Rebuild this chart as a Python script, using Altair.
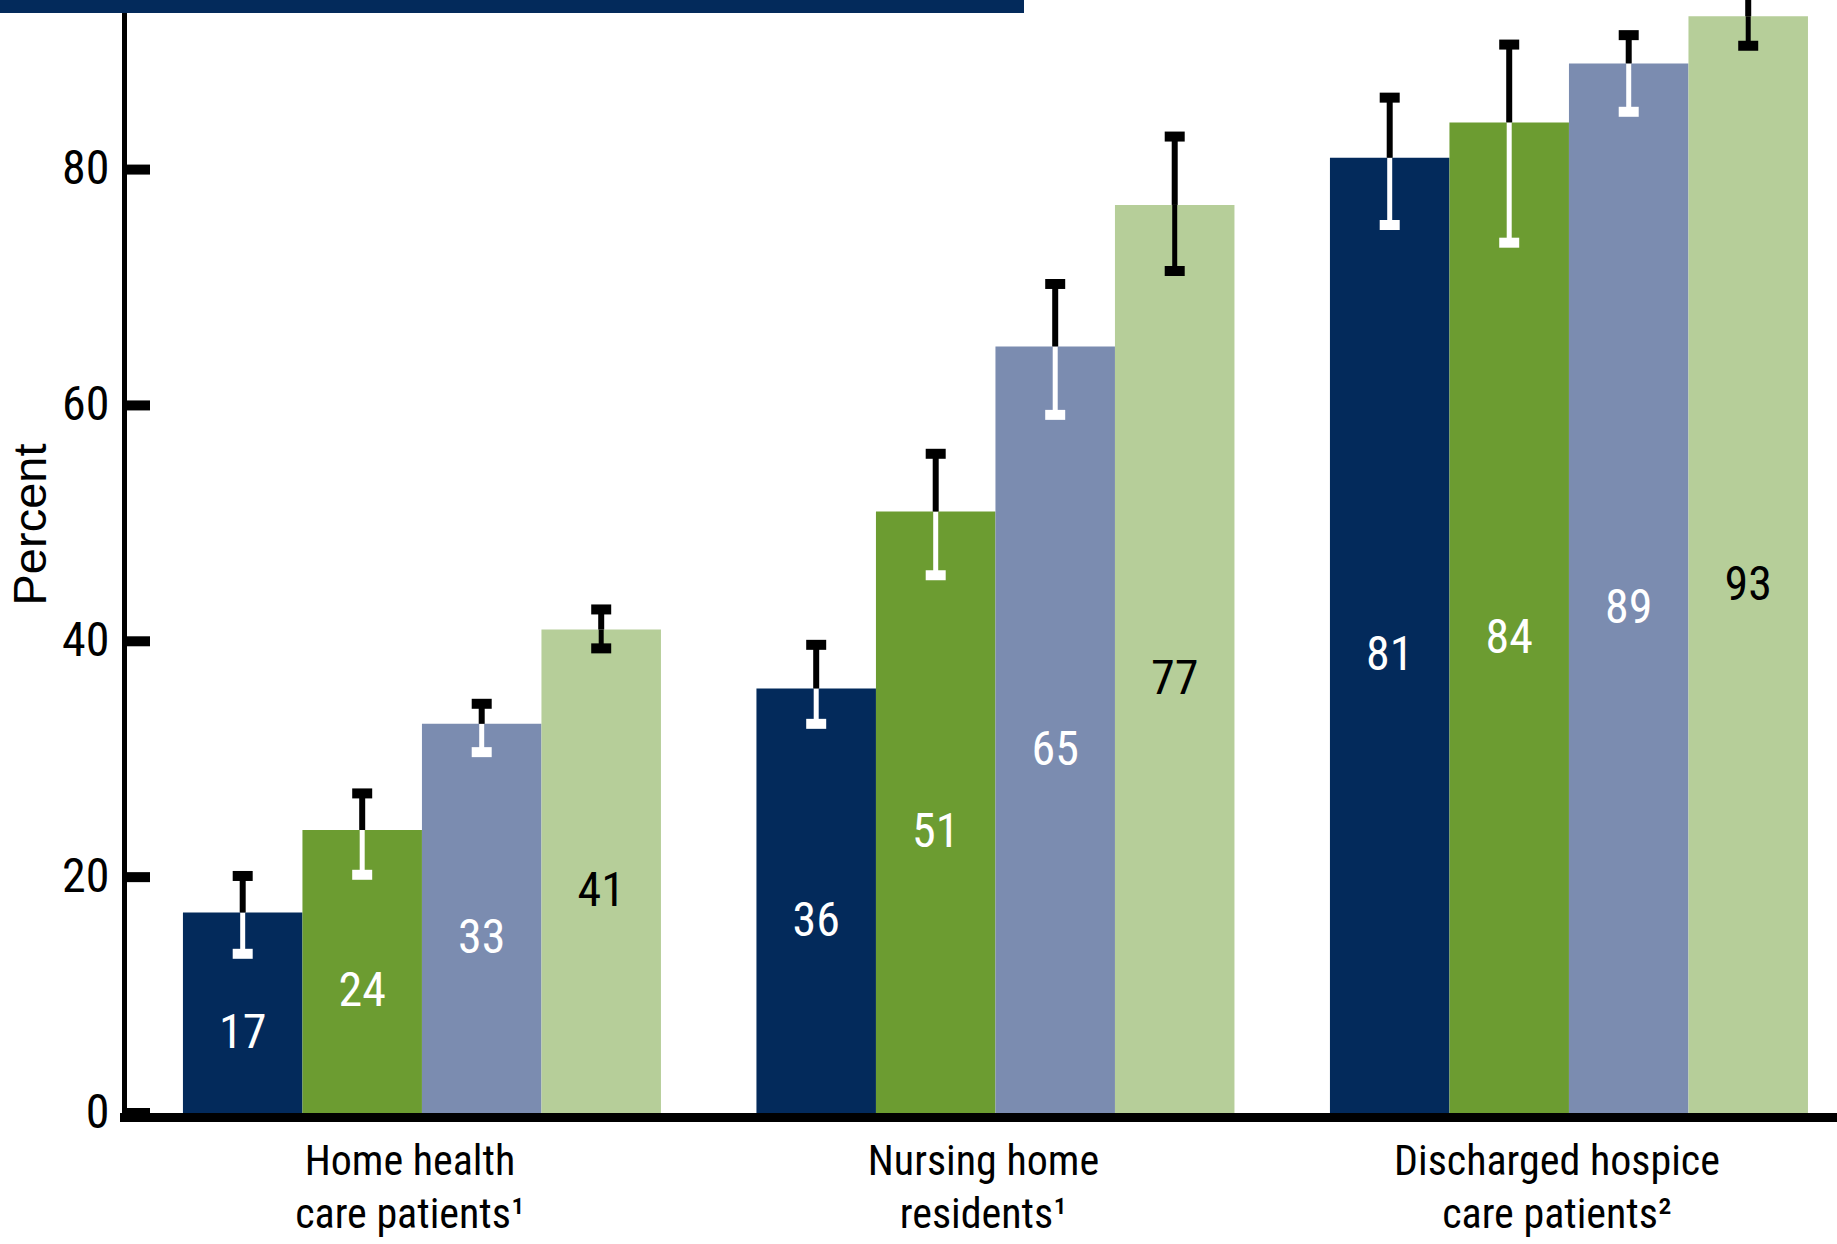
import altair as alt
import pandas as pd

# Survey groups (x axis) and the four series drawn inside each group
categories = [
    "Home health\ncare patients¹",
    "Nursing home\nresidents¹",
    "Discharged hospice\ncare patients²",
]
series = ["Series 1", "Series 2", "Series 3", "Series 4"]
series_colors = ["#032a5b", "#6c9c31", "#7b8cb0", "#b6ce99"]

# Percent values per group, in series order
home_health = [17, 24, 33, 41]
nursing_home = [36, 51, 65, 77]
hospice = [81, 84, 89, 93]

# 95% confidence interval bounds, same order
home_health_lo = [13.5, 20.2, 30.6, 39.4]
home_health_hi = [20.1, 27.1, 34.7, 42.7]
nursing_home_lo = [33.0, 45.6, 59.2, 71.4]
nursing_home_hi = [39.7, 55.9, 70.3, 82.8]
hospice_lo = [75.3, 73.8, 84.9, 90.5]
hospice_hi = [86.1, 90.6, 91.4, 95.7]

y_ticks = [0, 20, 40, 60, 80]

NAVY = "#032a5b"
NARROW = "Roboto Condensed, Liberation Sans Narrow, Liberation Sans, sans-serif"
REGULAR = "Liberation Sans, Arial, sans-serif"

W, H = 1713, 1113
Y_MAX = 94.38

rows = []
for cat, vals, los, his in [
    (categories[0], home_health, home_health_lo, home_health_hi),
    (categories[1], nursing_home, nursing_home_lo, nursing_home_hi),
    (categories[2], hospice, hospice_lo, hospice_hi),
]:
    for i, s in enumerate(series):
        light = i == 3
        rows.append({
            "category": cat,
            "series": s,
            "value": vals[i],
            "mid": vals[i] / 2,
            "lo": los[i],
            "hi": his[i],
            "label": str(vals[i]),
            "text_color": "black" if light else "white",
            "lo_color": "black" if light else "white",
        })
df = pd.DataFrame(rows)

x_enc = alt.X(
    "category:N",
    sort=categories,
    title=None,
    scale=alt.Scale(paddingInner=0.1665, paddingOuter=0.0767, align=0.67),
    axis=alt.Axis(
        labelExpr="split(datum.value, '\\n')",
        labelAngle=0,
        labelFont=NARROW,
        labelFontSize=42,
        labelLineHeight=53,
        labelColor="black",
        labelBaseline="top",
        labelPadding=24,
        labelLimit=600,
        labelOffset=-12,
        ticks=False,
        domainColor="black",
        domainWidth=9,
        domainCap="square",
        offset=4,
        grid=False,
    ),
)
xoff_enc = alt.XOffset("series:N", sort=series,
                       scale=alt.Scale(paddingInner=0, paddingOuter=0))
y_scale = alt.Scale(domain=[0, Y_MAX], nice=False, zero=True)

y_axis = alt.Axis(
    values=y_ticks,
    ticks=False,
    grid=False,
    domainColor="black",
    domainWidth=5,
    labelFont=NARROW,
    labelFontSize=48,
    labelColor="black",
    labelPadding=15,
    titleFont=REGULAR,
    titleFontSize=47,
    titleFontWeight="normal",
    titleColor="black",
    titleAngle=270,
    titleAlign="center",
    titleBaseline="middle",
    titleX=-93,
    titleY=524,
)


def y_of(field):
    return alt.Y(field, scale=y_scale, axis=y_axis, title="Percent")


base = alt.Chart(df).encode(x=x_enc, xOffset=xoff_enc)

bars = base.mark_bar().encode(
    y=y_of("value:Q"),
    color=alt.Color("series:N", scale=alt.Scale(domain=series, range=series_colors), legend=None),
)

# Confidence intervals: black above the bar top, white (black on the light bars) inside it
err_upper = base.mark_rule(color="black", strokeWidth=6).encode(y=y_of("value:Q"), y2="hi:Q")
err_lower = base.mark_rule(strokeWidth=5).encode(
    y=y_of("lo:Q"), y2="value:Q", color=alt.Color("lo_color:N", scale=None)
)
cap_upper = base.mark_tick(color="black", thickness=10, size=20, opacity=1).encode(y=y_of("hi:Q"))
cap_lower = base.mark_tick(thickness=10, size=20, opacity=1).encode(
    y=y_of("lo:Q"), color=alt.Color("lo_color:N", scale=None)
)

labels = base.mark_text(font=NARROW, fontSize=48, baseline="middle", align="center", dy=21).encode(
    y=y_of("mid:Q"),
    text="label:N",
    color=alt.Color("text_color:N", scale=None),
)

# Inward-pointing tick marks on the value axis
axis_ticks = alt.Chart(pd.DataFrame({"t": y_ticks})).mark_rule(color="black", strokeWidth=10).encode(
    y=y_of("t:Q"),
    x=alt.value(0),
    x2=alt.value(26),
)

# Header band across the top
header = alt.Chart(pd.DataFrame({"k": [0]})).mark_rect(color=NAVY).encode(
    x=alt.value(-124), x2=alt.value(900), y=alt.value(0), y2=alt.value(13)
)

chart = (
    alt.layer(bars, err_lower, err_upper, cap_lower, cap_upper, labels, axis_ticks, header)
    .properties(
        width=W,
        height=H,
        padding={"left": 124, "top": 0, "right": 0, "bottom": 131},
        autosize=alt.AutoSizeParams(type="none"),
        background="white",
    )
    .configure_view(strokeWidth=0)
)

chart.save("out.html", embed_options={"renderer": "svg", "actions": False})
